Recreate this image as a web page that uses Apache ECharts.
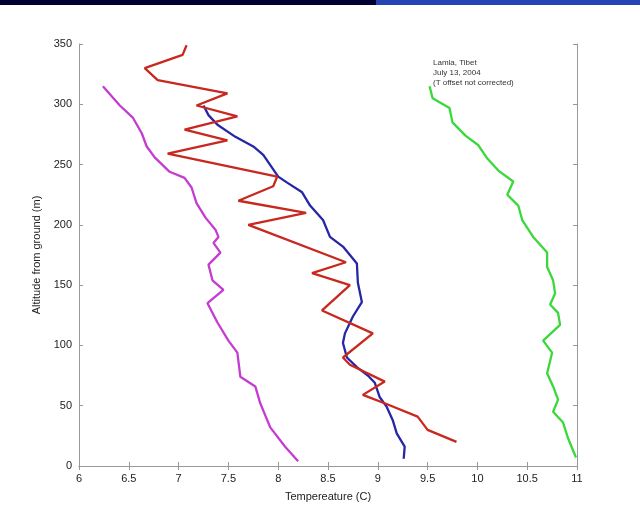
<!DOCTYPE html>
<html>
<head>
<meta charset="utf-8">
<script src="https://cdn.jsdelivr.net/npm/echarts@6/dist/echarts.min.js"></script>
<style>
  html, body { margin: 0; padding: 0; background: #fff; }
  #chart { width: 640px; height: 518px; }
</style>
</head>
<body>
<div id="chart"></div>
<script>
// temperature (C), altitude (m)
var magenta = [[6.24,315],[6.41,299],[6.54,289],[6.63,276],[6.68,265],[6.76,256],[6.91,244],[7.06,239],
  [7.13,231],[7.18,218],[7.27,206],[7.37,196],[7.40,190],[7.35,185],[7.42,177],[7.30,167],[7.34,154],
  [7.45,146],[7.29,135],[7.39,119],[7.50,104],[7.59,94],[7.62,74],[7.77,66],[7.82,52],[7.92,32],
  [8.07,16],[8.2,4]];
var red = [[7.08,349],[7.04,341],[6.66,330],[6.79,320],[7.49,309],[7.18,299],[7.59,290],[7.06,279],
  [7.49,270],[6.89,259],[7.99,240],[7.95,232],[7.60,220],[8.28,210],[7.70,200],[8.68,169],[8.34,160],
  [8.72,150],[8.44,129],[8.95,110],[8.65,90],[8.72,84],[9.07,70],[8.85,59],[9.10,51],[9.40,41],
  [9.50,30],[9.79,20]];
var blue = [[7.25,299],[7.30,291],[7.39,283],[7.57,273],[7.75,265],[7.85,258],[8.0,240],[8.09,235],
  [8.24,227],[8.32,216],[8.45,204],[8.52,190],[8.65,182],[8.79,168],[8.80,152],[8.84,136],[8.75,124],
  [8.67,110],[8.65,102],[8.69,90],[8.79,82],[8.90,75],[8.97,69],[9.02,57],[9.09,49],[9.15,38],
  [9.19,27],[9.27,16],[9.26,6]];
var green = [[9.52,315],[9.55,305],[9.72,297],[9.75,285],[9.88,274],[10.01,266],[10.10,255],[10.21,245],
  [10.36,236],[10.30,225],[10.41,216],[10.45,204],[10.56,190],[10.70,177],[10.70,165],[10.76,154],
  [10.78,143],[10.73,134],[10.81,127],[10.83,117],[10.66,104],[10.75,94],[10.70,77],[10.76,66],
  [10.81,55],[10.76,45],[10.86,36],[10.91,23],[10.99,7]];
var noteLines = ['Lamla, Tibet', 'July 13, 2004', '(T offset not corrected)'];

var chart = echarts.init(document.getElementById('chart'));
var axisGray = '#999';
function line(name, data, color) {
  return { name: name, type: 'line', data: data, symbol: 'none', smooth: false,
    lineStyle: { color: color, width: 2.3 }, z: 3 };
}
var option = {
  backgroundColor: '#fff',
  animation: false,
  grid: { left: 79, right: 63, top: 44, bottom: 52 },
  xAxis: [{
    type: 'value', min: 6, max: 11, interval: 0.5,
    name: 'Tempereature (C)', nameLocation: 'middle', nameGap: 25,
    nameTextStyle: { color: '#222', fontSize: 11, fontFamily: 'Liberation Sans' },
    axisLine: { lineStyle: { color: axisGray } },
    axisTick: { inside: true, length: 4, lineStyle: { color: axisGray } },
    axisLabel: { color: '#222', fontSize: 11, fontFamily: 'Liberation Sans', margin: 7 },
    splitLine: { show: false }
  }, {
    type: 'value', min: 6, max: 11, interval: 0.5, position: 'top',
    axisLine: { lineStyle: { color: axisGray } },
    axisTick: { inside: true, length: 4, lineStyle: { color: axisGray } },
    axisLabel: { show: false }, splitLine: { show: false }
  }],
  yAxis: [{
    type: 'value', min: 0, max: 350, interval: 50,
    name: 'Altitude from ground (m)', nameLocation: 'middle', nameGap: 30,
    nameTextStyle: { color: '#222', fontSize: 11, fontFamily: 'Liberation Sans' },
    axisLine: { show: true, lineStyle: { color: axisGray } },
    axisTick: { show: true, inside: true, length: 4, lineStyle: { color: axisGray } },
    axisLabel: { color: '#222', fontSize: 11, fontFamily: 'Liberation Sans', margin: 7 },
    splitLine: { show: false }
  }, {
    type: 'value', min: 0, max: 350, interval: 50, position: 'right',
    axisLine: { show: true, lineStyle: { color: axisGray } },
    axisTick: { show: true, inside: true, length: 4, lineStyle: { color: axisGray } },
    axisLabel: { show: false }, splitLine: { show: false }
  }],
  series: [
    line('magenta', magenta, '#c43cd0'),
    line('green', green, '#3ad83a'),
    line('blue', blue, '#2626a6'),
    line('red', red, '#c8281e')
  ],
  graphic: [
    { type: 'rect', shape: { x: 0, y: 0, width: 378, height: 5 }, style: { fill: '#000033' } },
    { type: 'rect', shape: { x: 376, y: 0, width: 264, height: 5 }, style: { fill: '#2444b4' } },
    { type: 'text', left: 433, top: 58,
      style: { text: noteLines.join('\n'), fill: '#333', fontSize: 8, lineHeight: 10,
        fontFamily: 'Liberation Sans' } }
  ]
};
chart.setOption(option);
</script>
</body>
</html>
